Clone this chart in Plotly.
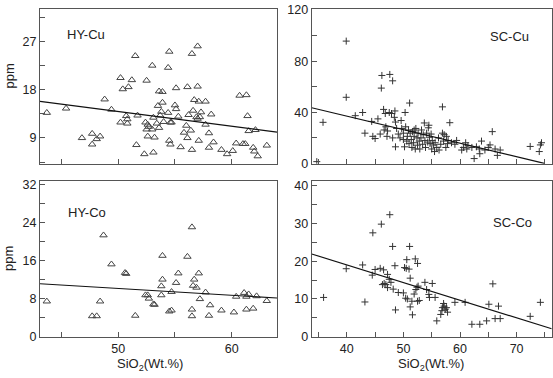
import plotly.graph_objects as go
from plotly.subplots import make_subplots

# ---------------- data ----------------
hy_cu_sio2 = [43.7, 45.4, 46.8, 47.7, 47.7, 48.1, 48.4, 48.8, 49.4, 50.2, 50.4, 50.2, 50.7, 50.8, 50.8,
              50.9, 51.2, 51.5, 51.6, 51.7, 52.3, 52.4, 52.5, 52.5, 52.6, 52.6, 52.7, 53.0, 53.0, 53.1,
              53.1, 53.2, 53.4, 53.5, 53.6, 53.6, 53.7, 53.8, 53.9, 53.9, 54.0, 54.4, 54.4, 54.5, 54.5,
              54.6, 54.6, 54.7, 55.0, 55.1, 55.1, 55.3, 55.5, 55.8, 56.0, 56.1, 56.1, 56.2, 56.4, 56.5,
              56.5, 56.6, 56.7, 56.9, 57.0, 57.0, 57.0, 57.1, 57.1, 57.3, 57.2, 57.7, 57.7, 58.0, 58.0,
              58.2, 58.4, 59.1, 59.6, 60.1, 60.4, 60.7, 61.0, 61.2, 61.3, 61.4, 61.5, 61.9, 62.0, 62.1,
              62.3, 63.1]
hy_cu_ppm = [13.7, 14.5, 9.0, 7.8, 9.8, 8.8, 9.3, 16.2, 14.3, 20.2, 18.1, 11.9, 13.1, 12.5, 11.7,
             18.5, 19.8, 24.3, 7.7, 13.2, 6.0, 11.9, 10.6, 19.7, 9.3, 11.5, 11.1, 22.5, 10.6, 6.3,
             12.8, 9.1, 11.7, 15.0, 17.7, 10.9, 13.2, 13.9, 17.6, 15.6, 12.0, 13.7, 22.1, 25.1, 8.5,
             11.9, 7.8, 11.9, 15.1, 18.3, 14.4, 13.0, 7.3, 10.0, 11.3, 18.5, 9.0, 13.3, 10.4, 6.8,
             24.7, 14.1, 16.1, 12.9, 18.6, 12.6, 26.1, 15.8, 8.5, 13.8, 12.9, 15.8, 11.5, 9.9, 7.2,
             13.4, 8.2, 6.8, 6.0, 6.6, 8.0, 16.9, 7.9, 7.9, 17.0, 13.1, 10.3, 7.2, 6.5, 10.5,
             5.6, 7.6]

hy_co_sio2 = [43.7, 48.4, 47.7, 48.1, 48.7, 49.4, 50.6, 50.7, 51.5, 52.4, 52.6, 52.7, 53.1, 53.2,
              53.8, 53.9, 53.9, 53.8, 54.7, 54.5, 54.7, 55.1, 55.3, 56.1, 56.5, 56.5, 56.5, 56.6,
              56.7, 56.9, 57.1, 57.2, 57.7, 58.0, 58.1, 59.1, 60.2, 60.4, 61.1, 61.3, 61.3, 61.5,
              61.9, 62.2, 63.1]
hy_co_ppm = [7.5, 7.5, 4.4, 4.4, 21.4, 15.3, 13.5, 13.3, 4.5, 8.8, 8.8, 8.1, 6.9, 6.8,
             10.7, 12.1, 17.1, 8.8, 9.5, 5.4, 5.6, 11.4, 13.4, 16.9, 23.1, 5.8, 4.4, 10.8,
             12.1, 10.4, 13.4, 8.0, 9.4, 4.5, 6.7, 5.6, 5.2, 8.5, 9.3, 8.5, 5.8, 9.0,
             6.0, 8.6, 7.6]

sc_cu_sio2 = [34.7, 35.8, 39.9, 39.9, 41.5, 42.8, 43.2, 44.4, 44.6, 45.0, 45.5, 45.9, 46.1, 46.2,
              46.5, 46.6, 46.8, 46.9, 47.1, 47.2, 47.5, 47.6, 47.9, 48.1, 48.1, 48.4, 48.5, 48.6,
              48.6, 48.8, 49.1, 49.4, 49.6, 49.7, 50.0, 50.0, 50.2, 50.3, 50.4, 50.6, 50.7, 50.9,
              51.0, 51.1, 51.2, 51.4, 51.5, 51.6, 51.8, 51.9, 51.9, 52.1, 52.2, 52.4, 52.5, 52.6,
              52.8, 52.9, 53.1, 53.2, 53.4, 53.5, 53.7, 53.8, 53.9, 54.1, 54.3, 54.4, 54.5, 54.6,
              54.7, 54.9, 55.0, 55.1, 55.3, 55.5, 55.6, 55.9, 56.2, 56.3, 56.6, 56.9, 56.9, 57.1,
              57.2, 57.5, 57.6, 57.8, 57.9, 58.2, 58.5, 59.1, 59.4, 60.3, 60.6, 61.0, 61.2, 61.4,
              62.1, 62.5, 62.9, 63.4, 63.5, 63.8, 64.4, 65.0, 65.3, 65.7, 66.2, 66.6, 67.1, 72.4,
              74.0, 74.2, 74.4]
sc_cu_ppm = [1.3, 32.1, 95.7, 51.7, 37.3, 39.8, 23.6, 32.8, 21.1, 19.4, 34.8, 22.9, 58.9, 68.8,
             42.2, 26.1, 39.0, 28.6, 21.1, 25.3, 39.8, 69.6, 39.0, 64.6, 19.9, 36.0, 41.0, 32.3,
             12.9, 27.3, 22.9, 19.9, 33.5, 27.3, 23.6, 18.6, 12.9, 39.8, 28.6, 17.4, 21.1, 26.1,
             15.4, 47.2, 23.6, 18.6, 12.4, 24.8, 16.1, 21.1, 26.1, 11.2, 27.3, 19.9, 14.2, 23.6,
             17.4, 11.2, 19.9, 26.1, 14.9, 22.4, 31.6, 17.9, 12.4, 23.6, 16.6, 27.8, 29.8, 20.4,
             15.4, 22.9, 11.2, 17.9, 14.4, 9.2, 16.1, 12.4, 19.9, 10.4, 14.9, 44.2, 23.6, 17.4,
             22.4, 12.4, 21.1, 15.4, 17.9, 31.8, 16.1, 14.9, 17.9, 10.4, 12.4, 16.1, 11.2, 13.7,
             12.4, 3.7, 12.9, 11.2, 7.5, 17.4, 10.4, 12.4, 14.4, 24.8, 11.2, 6.2, 10.4, 13.2,
             9.2, 14.4, 16.1]

sc_co_sio2 = [35.9, 39.9, 42.8, 43.2, 44.5, 44.6, 45.0, 45.9, 46.1, 46.3, 46.5, 46.6, 46.9, 47.2,
              47.2, 47.5, 47.6, 47.8, 48.1, 48.2, 48.5, 48.6, 49.1, 50.0, 50.2, 50.4, 50.5, 50.6,
              50.7, 51.0, 51.1, 51.2, 51.2, 51.5, 51.6, 51.9, 52.1, 52.2, 52.4, 52.5, 52.5, 52.6,
              52.8, 53.8, 54.1, 54.5, 54.6, 55.1, 55.6, 55.9, 56.6, 56.8, 56.9, 57.1, 57.2, 57.4,
              57.6, 57.8, 59.1, 60.9, 62.1, 63.5, 64.7, 65.1, 65.8, 66.2, 66.8, 67.1, 72.4, 74.2]
sc_co_ppm = [10.4, 18.0, 19.0, 9.2, 16.3, 27.5, 17.8, 18.1, 29.8, 13.8, 17.7, 14.1, 13.8, 16.5,
             13.0, 15.2, 32.3, 14.4, 23.9, 12.6, 18.8, 7.1, 11.7, 11.6, 18.3, 10.2, 18.1, 20.4,
             10.0, 17.9, 23.9, 15.5, 7.9, 9.4, 5.8, 11.3, 20.6, 12.5, 13.1, 19.4, 9.4, 13.4,
             9.6, 14.4, 12.5, 11.2, 10.4, 14.1, 10.4, 4.2, 5.9, 6.9, 7.7, 8.8, 8.1, 7.3,
             7.7, 6.5, 9.1, 9.1, 3.3, 3.3, 4.2, 8.6, 14.0, 4.8, 8.1, 4.8, 5.4, 9.1]

# regression line end points
hy_cu_fit_x = [43.1, 64.0]
hy_cu_fit_y = [15.8, 10.1]
hy_co_fit_x = [43.1, 64.0]
hy_co_fit_y = [11.2, 8.2]
sc_cu_fit_x = [33.8, 74.9]
sc_cu_fit_y = [43.5, 0.0]
sc_co_fit_x = [33.8, 76.2]
sc_co_fit_y = [21.9, 2.1]

panel_names = ["HY-Cu", "SC-Cu", "HY-Co", "SC-Co"]

# ---------------- figure ----------------
W, H = 553, 378
FONT = "Liberation Sans, Arial, sans-serif"
TXT = "#222222"
AX = "#555555"

fig = make_subplots(rows=2, cols=2)

tri = dict(symbol="triangle-up-open", size=6.5, color="#444444", line=dict(width=1, color="#444444"))
crs = dict(symbol="cross-thin-open", size=5, color="#333333", line=dict(width=1, color="#333333"))
fit_line = dict(color="#111111", width=1.2)

fig.add_trace(go.Scatter(x=hy_cu_sio2, y=hy_cu_ppm, mode="markers", marker=tri), row=1, col=1)
fig.add_trace(go.Scatter(x=hy_cu_fit_x, y=hy_cu_fit_y, mode="lines", line=fit_line), row=1, col=1)
fig.add_trace(go.Scatter(x=sc_cu_sio2, y=sc_cu_ppm, mode="markers", marker=crs), row=1, col=2)
fig.add_trace(go.Scatter(x=sc_cu_fit_x, y=sc_cu_fit_y, mode="lines", line=fit_line), row=1, col=2)
fig.add_trace(go.Scatter(x=hy_co_sio2, y=hy_co_ppm, mode="markers", marker=tri), row=2, col=1)
fig.add_trace(go.Scatter(x=hy_co_fit_x, y=hy_co_fit_y, mode="lines", line=fit_line), row=2, col=1)
fig.add_trace(go.Scatter(x=sc_co_sio2, y=sc_co_ppm, mode="markers", marker=crs), row=2, col=2)
fig.add_trace(go.Scatter(x=sc_co_fit_x, y=sc_co_fit_y, mode="lines", line=fit_line), row=2, col=2)

def px_x(p):
    return p / W

def px_y(p):
    return 1 - p / H

left_dom = [px_x(40), px_x(277)]
right_dom = [px_x(311.7), px_x(551.7)]
top_dom = [px_y(163.3), px_y(3.3)]
bot_dom = [px_y(343.3), px_y(181.7)]

common = dict(showline=True, mirror=True, linecolor=AX, linewidth=1, ticks="inside", ticklen=5,
              tickcolor=AX, tickwidth=1, showgrid=False, zeroline=False,
              tickfont=dict(family=FONT, size=12.5, color=TXT))

def minor(d):
    return dict(dtick=d, ticks="inside", ticklen=5, tickcolor=AX, tickwidth=1, showgrid=False)

fig.update_layout(
    xaxis=dict(domain=left_dom, range=[43.1, 64.0], dtick=10, tick0=0, minor=minor(5), showticklabels=False, **common),
    xaxis2=dict(domain=right_dom, range=[33.8, 76.2], dtick=10, tick0=0, minor=minor(5), showticklabels=False, **common),
    xaxis3=dict(domain=left_dom, range=[43.1, 64.0], dtick=10, tick0=0, minor=minor(5), **common),
    xaxis4=dict(domain=right_dom, range=[33.8, 76.2], dtick=10, tick0=0, minor=minor(5), **common),
    yaxis=dict(domain=top_dom, range=[4.2, 33.0], dtick=9, tick0=0, minor=minor(4.5), **common),
    yaxis2=dict(domain=top_dom, range=[-0.3, 120.7], dtick=40, tick0=0, minor=minor(20), **common),
    yaxis3=dict(domain=bot_dom, range=[-0.1, 32.7], dtick=8, tick0=0, minor=minor(4), **common),
    yaxis4=dict(domain=bot_dom, range=[-0.2, 41.1], dtick=10, tick0=0, minor=minor(5), **common),
)

anns = []
label_pos = [(86, 29), (509, 32), (87, 214), (512, 224)]
for name, (ax_, ay_) in zip(panel_names, label_pos):
    anns.append(dict(text=name, x=px_x(ax_), y=px_y(ay_), xref="paper", yref="paper",
                     xanchor="center", yanchor="middle", showarrow=False,
                     font=dict(family=FONT, size=13, color=TXT)))
for ay_ in (73, 262):
    anns.append(dict(text="ppm", x=px_x(9), y=px_y(ay_), xref="paper", yref="paper",
                     xanchor="center", yanchor="middle", showarrow=False, textangle=-90,
                     font=dict(family=FONT, size=13, color=TXT)))
for ax_ in (150, 431):
    anns.append(dict(text="SiO<sub>2</sub>(Wt.%)", x=px_x(ax_), y=px_y(371), xref="paper", yref="paper",
                     xanchor="center", yanchor="middle", showarrow=False,
                     font=dict(family=FONT, size=13, color=TXT)))

fig.update_layout(
    width=W, height=H, margin=dict(l=0, r=0, t=0, b=0),
    paper_bgcolor="white", plot_bgcolor="white", showlegend=False,
    annotations=anns,
)

fig.write_html("out.html")
